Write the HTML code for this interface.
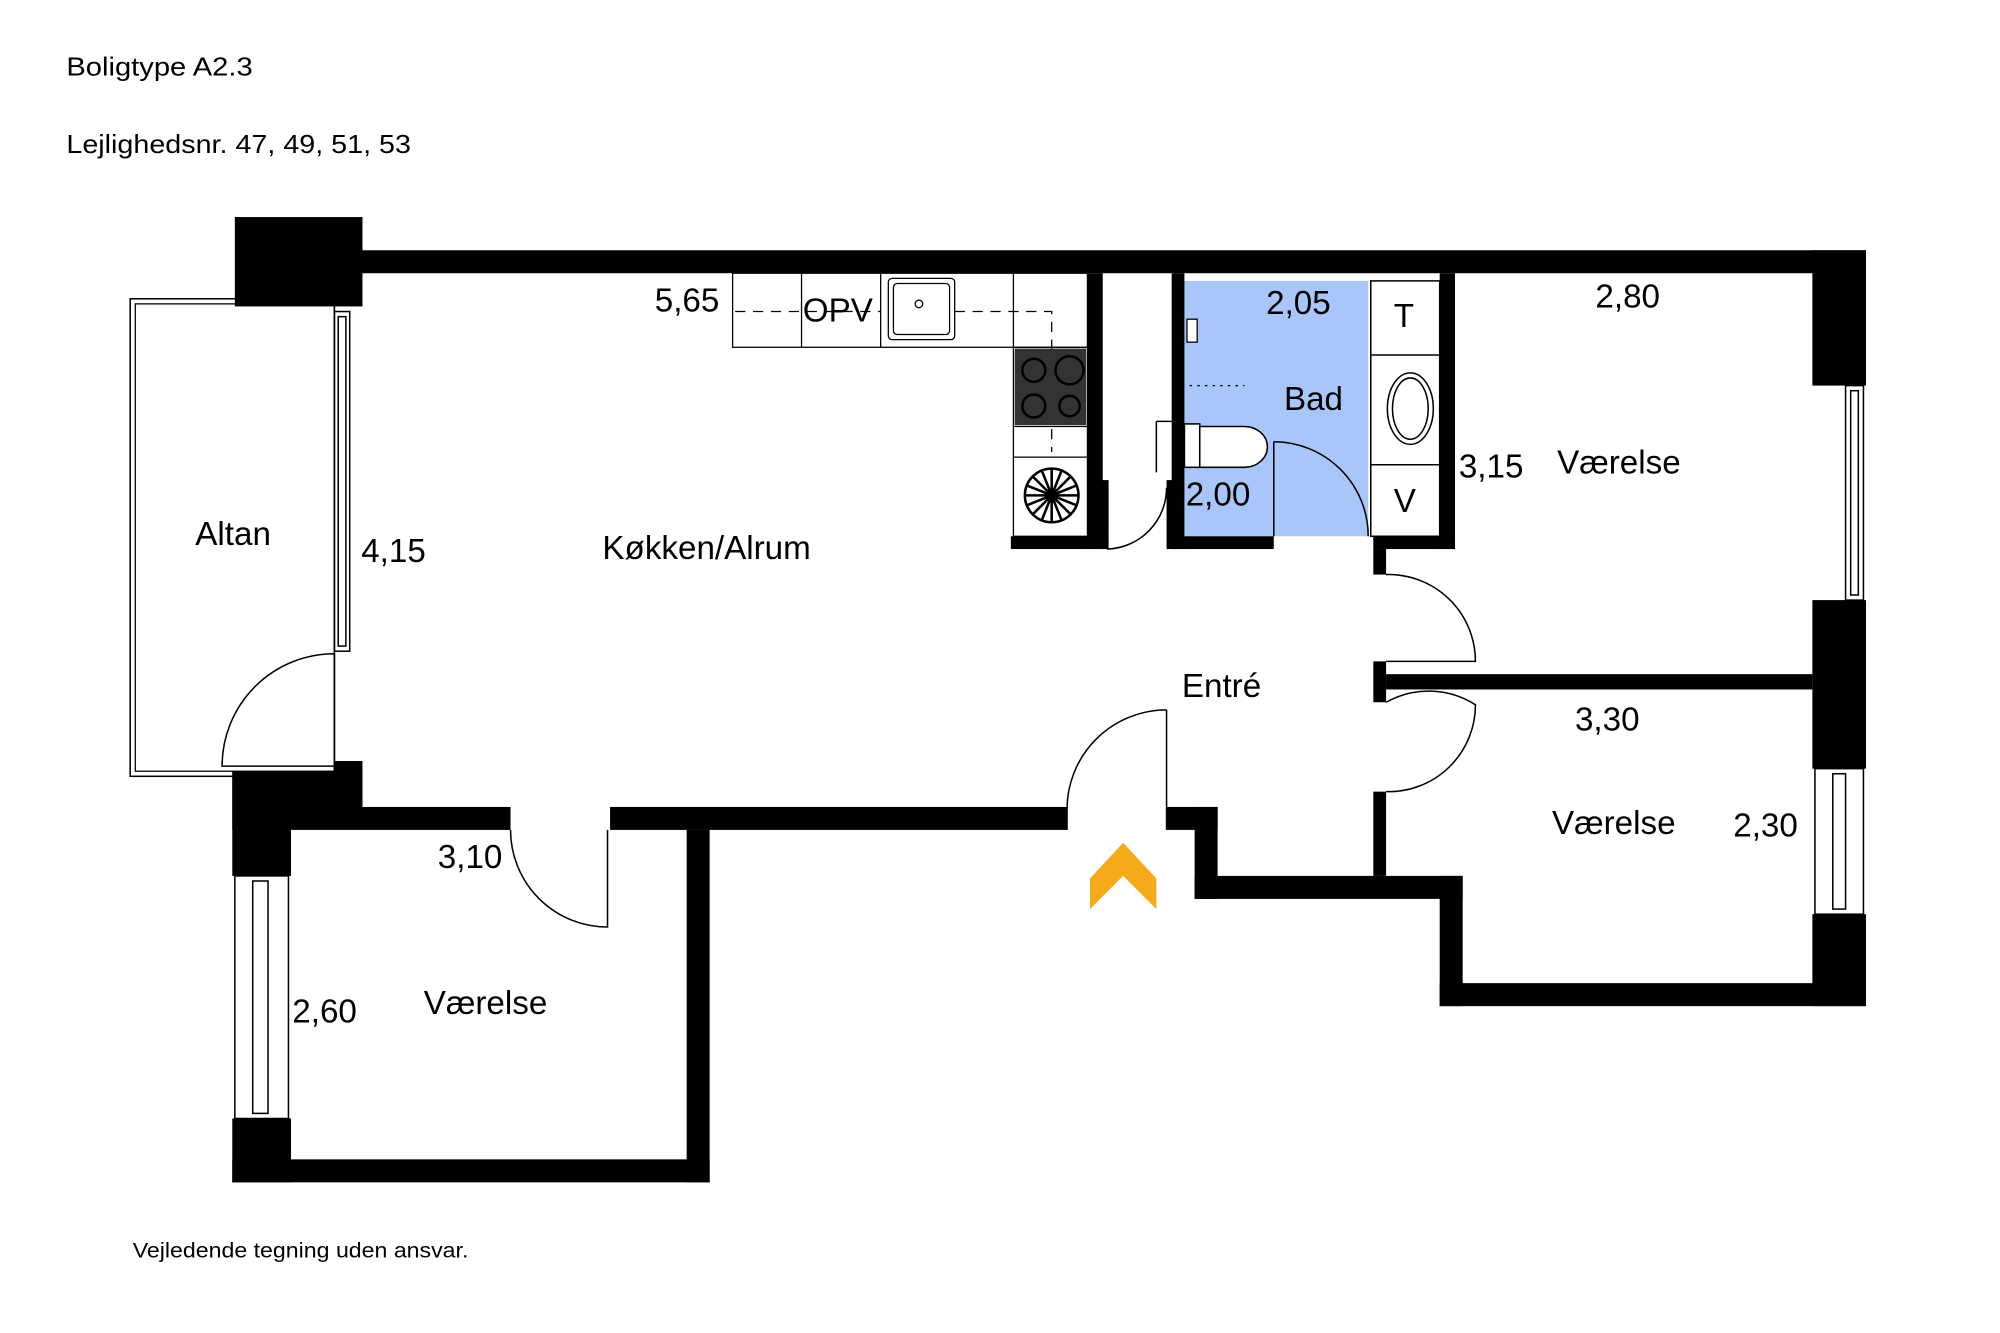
<!DOCTYPE html>
<html><head><meta charset="utf-8"><style>html,body{margin:0;padding:0;background:#fff;width:2000px;height:1333px;overflow:hidden}svg{display:block}</style></head>
<body>
<svg width="2000" height="1333" viewBox="0 0 1567 1044" preserveAspectRatio="none" xmlns="http://www.w3.org/2000/svg" font-family="Liberation Sans, Arial, sans-serif">
<rect width="1567" height="1044" fill="#fff"/>
<text x="52" y="59" font-size="20" textLength="146" lengthAdjust="spacingAndGlyphs">Boligtype A2.3</text>
<text x="52" y="120" font-size="20" textLength="270" lengthAdjust="spacingAndGlyphs">Lejlighedsnr. 47, 49, 51, 53</text>
<text x="104" y="985" font-size="17" textLength="263" lengthAdjust="spacingAndGlyphs">Vejledende tegning uden ansvar.</text>

<rect x="928" y="220" width="144" height="200" fill="#a9c6fb"/>

<rect x="102" y="234" width="160" height="374" fill="none" stroke="#000" stroke-width="1.2"/>
<rect x="106" y="238" width="156" height="366" fill="none" stroke="#000" stroke-width="1"/>

<g fill="#000">
<rect x="184" y="170" width="100" height="70"/>
<rect x="284" y="196" width="1178" height="18"/>
<rect x="1420" y="196" width="42" height="106"/>
<rect x="1420" y="470" width="42" height="132"/>
<rect x="1420" y="716" width="42" height="72"/>
<rect x="1128" y="770" width="334" height="18"/>
<rect x="1128" y="686" width="18" height="102"/>
<rect x="936" y="686" width="210" height="18"/>
<rect x="936" y="632" width="18" height="72"/>
<rect x="914" y="632" width="40" height="18"/>
<rect x="1076" y="620" width="10" height="66"/>
<rect x="262" y="596" width="22" height="36"/>
<rect x="182" y="604" width="102" height="46"/>
<rect x="284" y="632" width="116" height="18"/>
<rect x="478" y="632" width="358" height="18"/>
<rect x="538" y="650" width="18" height="276"/>
<rect x="182" y="908" width="374" height="18"/>
<rect x="182" y="604" width="46" height="82"/>
<rect x="182" y="876" width="46" height="50"/>
<rect x="852" y="214" width="12" height="216"/>
<rect x="792" y="420" width="72" height="10"/>
<rect x="862" y="376" width="6" height="54"/>
<rect x="918" y="214" width="10" height="216"/>
<rect x="918" y="420" width="80" height="10"/>
<rect x="914" y="376" width="8" height="54"/>
<rect x="1128" y="214" width="12" height="216"/>
<rect x="1076" y="420" width="64" height="10"/>
<rect x="1076" y="430" width="10" height="20"/>
<rect x="1076" y="518" width="10" height="32"/>
<rect x="1086" y="528" width="334" height="12"/>
</g>

<g fill="none" stroke="#000" stroke-width="1.2">
<rect x="262" y="244" width="12" height="266"/>
<rect x="265" y="248" width="6" height="258"/>
<rect x="1446" y="302" width="14" height="168"/>
<rect x="1450" y="306" width="6" height="160"/>
<rect x="1422" y="602" width="38" height="114"/>
<rect x="1436" y="606" width="10" height="106"/>
<rect x="184" y="686" width="42" height="190"/>
<rect x="198" y="690" width="12" height="182"/>
</g>

<g fill="none" stroke="#000" stroke-width="1.2">
<path d="M262 512 A88 88 0 0 0 174 600 L262 600 Z"/>
<path d="M400 650 A76 76 0 0 0 476 726 L476 650"/>
<path d="M914 556 L914 650 M914 556 A78 78 0 0 0 836 634 L836 650"/>
<path d="M868 376 L868 430 A48 48 0 0 0 914 382"/>
<path d="M998 346 L998 420 M998 346 A74 74 0 0 1 1072 420"/>
<path d="M1086 450 A68 68 0 0 1 1156 518 L1086 518"/>
<path d="M1086 550 A68 68 0 0 1 1156 552 A68 68 0 0 1 1086 620"/>
</g>

<g fill="none" stroke="#000" stroke-width="1">
<rect x="574" y="214" width="278" height="58"/>
<line x1="628" y1="214" x2="628" y2="272"/>
<line x1="690" y1="214" x2="690" y2="272"/>
<line x1="794" y1="214" x2="794" y2="272"/>
<rect x="696" y="218" width="52" height="48" rx="3"/>
<rect x="700" y="222" width="44" height="40" rx="3"/>
<circle cx="720" cy="238" r="3"/>
<rect x="794" y="272" width="58" height="148"/>
<line x1="794" y1="334" x2="852" y2="334"/>
<line x1="794" y1="358" x2="852" y2="358"/>
<path d="M576 244 H690 M748 244 H824 V354" stroke-dasharray="8 6"/>
</g>
<rect x="795" y="273" width="56" height="60" fill="#333"/>
<g fill="none" stroke="#000" stroke-width="2">
<circle cx="810" cy="290" r="9"/><circle cx="838" cy="290" r="11"/>
<circle cx="810" cy="318" r="9"/><circle cx="838" cy="318" r="8"/>
</g>
<g stroke="#000" stroke-width="2" fill="none">
<circle cx="824" cy="388" r="21"/>
<path d="M824 367V409M803 388H845M809 373L839 403M839 373L809 403M816 368L832 408M832 368L816 408M804 380L844 396M804 396L844 380"/>
</g>

<g fill="#fff" stroke="#000" stroke-width="1.2">
<rect x="1074" y="220" width="54" height="200" fill="#fff"/>
<line x1="1074" y1="278" x2="1128" y2="278"/>
<line x1="1074" y1="364" x2="1128" y2="364"/>
<ellipse cx="1105" cy="320" rx="18" ry="28"/>
<ellipse cx="1105" cy="320" rx="14" ry="24"/>
<rect x="928" y="332" width="12" height="34"/>
<path d="M940 334 H975 A18 16 0 0 1 975 366 H940 Z"/>
<path d="M906 330 V370 M906 330 H918"/>
</g>
<path d="M932 302 H975" stroke="#000" stroke-dasharray="2 4"/>
<rect x="930" y="250" width="8" height="18" fill="#fff" stroke="#000"/>

<path d="M854 688 L880 660 L906 688 L906 712 L880 686 L854 712 Z" fill="#f5ab19"/>

<g font-size="26" fill="#000">
<text x="153" y="427">Altan</text>
<text x="283" y="440">4,15</text>
<text x="472" y="438">Køkken/Alrum</text>
<text x="513" y="244">5,65</text>
<text x="629" y="252">OPV</text>
<text x="992" y="246">2,05</text>
<text x="1006" y="321">Bad</text>
<text x="929" y="396">2,00</text>
<text x="1092" y="256">T</text>
<text x="1092" y="401">V</text>
<text x="1250" y="241">2,80</text>
<text x="1143" y="374">3,15</text>
<text x="1220" y="371">Værelse</text>
<text x="926" y="546">Entré</text>
<text x="1234" y="572">3,30</text>
<text x="1216" y="653">Værelse</text>
<text x="1358" y="655">2,30</text>
<text x="343" y="680">3,10</text>
<text x="229" y="801">2,60</text>
<text x="332" y="794">Værelse</text>
</g>
</svg>
</body></html>
